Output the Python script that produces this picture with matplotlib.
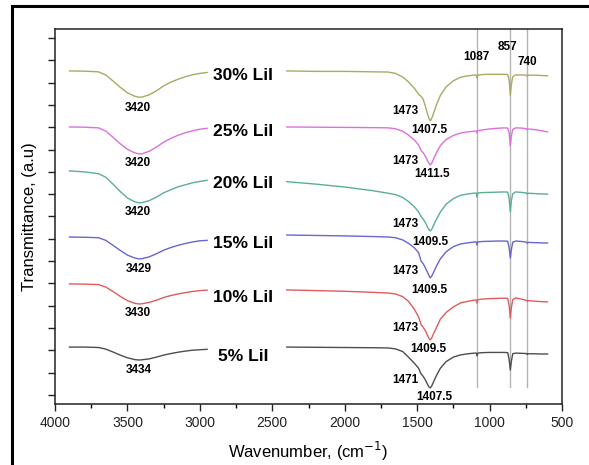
import matplotlib
matplotlib.use("Agg")
import matplotlib.pyplot as plt
from matplotlib.patches import Rectangle

plt.rcParams['font.family'] = ['Liberation Sans', 'DejaVu Sans']

# wavenumber grids (cm-1); the spectra have a gap between ~2950 and 2400
left_wn = [3900, 3800, 3700, 3650, 3600, 3550, 3500, 3450, 3420, 3400, 3350,
           3300, 3250, 3200, 3150, 3100, 3050, 3000, 2950]
right_wn = [2400, 2200, 2000, 1800, 1700, 1650, 1600, 1560, 1520, 1490, 1473,
            1460, 1445, 1430, 1420, 1410, 1400, 1385, 1365, 1340, 1300, 1250,
            1200, 1150, 1100, 1092, 1087, 1082, 1050, 1000, 950, 900, 875, 865,
            857, 850, 840, 820, 780, 745, 740, 735, 700, 650, 600]

samples = ['30% LiI', '25% LiI', '20% LiI', '15% LiI', '10% LiI', '5% LiI']
colors = ['#aaaa62', '#dd6fdd', '#5aae98', '#6666d4', '#e05c5c', '#4d4d4d']

t30_left = [14.52, 14.51, 14.48, 14.34, 14.07, 13.79, 13.54, 13.39, 13.34, 13.35,
            13.45, 13.63, 13.85, 14.02, 14.15, 14.26, 14.35, 14.41, 14.45]
t25_left = [12.01, 12.0, 11.97, 11.83, 11.55, 11.26, 11.01, 10.85, 10.80, 10.81,
            10.92, 11.11, 11.33, 11.5, 11.64, 11.75, 11.84, 11.91, 11.95]
t20_left = [10.04, 10.0, 9.92, 9.76, 9.45, 9.12, 8.83, 8.66, 8.61, 8.62,
            8.71, 8.87, 9.06, 9.2, 9.33, 9.42, 9.51, 9.57, 9.62]
t15_left = [7.08, 7.07, 7.05, 6.93, 6.71, 6.48, 6.27, 6.14, 6.10, 6.11,
            6.19, 6.33, 6.49, 6.61, 6.71, 6.79, 6.86, 6.91, 6.93]
t10_left = [4.98, 4.97, 4.95, 4.84, 4.64, 4.42, 4.23, 4.11, 4.08, 4.09,
            4.15, 4.25, 4.37, 4.46, 4.53, 4.59, 4.64, 4.68, 4.70]
t5_left = [2.15, 2.15, 2.13, 2.06, 1.93, 1.79, 1.67, 1.59, 1.57, 1.58,
           1.62, 1.70, 1.79, 1.86, 1.92, 1.97, 2.01, 2.03, 2.05]

t30_right = [14.52, 14.5, 14.5, 14.48, 14.47, 14.41, 14.25, 14.03, 13.75, 13.48,
             13.38, 13.27, 12.98, 12.62, 12.43, 12.28, 12.39, 12.66, 13.03, 13.42,
             13.81, 14.08, 14.24, 14.3, 14.34, 14.33, 14.2, 14.33, 14.36, 14.37,
             14.37, 14.37, 14.36, 14.1, 13.44, 13.9, 14.26, 14.34, 14.34, 14.33,
             14.28, 14.33, 14.33, 14.32, 14.3]
t25_right = [12.01, 12.0, 11.99, 11.98, 11.97, 11.93, 11.82, 11.65, 11.43, 11.2,
             10.95, 10.87, 10.72, 10.52, 10.4, 10.31, 10.38, 10.6, 10.88, 11.17,
             11.45, 11.63, 11.74, 11.79, 11.83, 11.83, 11.74, 11.84, 11.88, 11.92,
             11.95, 11.97, 11.96, 11.75, 11.16, 11.6, 11.9, 11.97, 11.96, 11.93,
             11.88, 11.92, 11.9, 11.85, 11.79]
t20_right = [9.56, 9.45, 9.32, 9.15, 9.04, 8.98, 8.85, 8.67, 8.44, 8.2,
             8.0, 7.9, 7.74, 7.55, 7.43, 7.35, 7.42, 7.63, 7.9, 8.2,
             8.55, 8.8, 8.95, 9.01, 9.05, 9.05, 8.87, 9.05, 9.07, 9.08,
             9.09, 9.1, 9.09, 8.8, 8.2, 8.7, 9.02, 9.1, 9.08, 9.05,
             9.0, 9.04, 9.03, 9.01, 9.0]
t15_right = [7.17, 7.15, 7.13, 7.1, 7.08, 7.05, 6.95, 6.8, 6.6, 6.38,
             6.0, 5.9, 5.72, 5.52, 5.37, 5.25, 5.32, 5.52, 5.8, 6.1,
             6.42, 6.65, 6.77, 6.82, 6.86, 6.86, 6.72, 6.86, 6.88, 6.89,
             6.9, 6.9, 6.89, 6.6, 6.14, 6.5, 6.85, 6.9, 6.88, 6.85,
             6.8, 6.84, 6.83, 6.82, 6.81]
t10_right = [4.71, 4.68, 4.65, 4.6, 4.57, 4.53, 4.41, 4.2, 3.85, 3.5,
             3.15, 3.05, 2.9, 2.7, 2.56, 2.47, 2.55, 2.78, 3.05, 3.4,
             3.7, 3.95, 4.13, 4.2, 4.26, 4.26, 4.12, 4.27, 4.3, 4.32,
             4.33, 4.34, 4.33, 4.0, 3.45, 3.9, 4.28, 4.35, 4.3, 4.24,
             4.2, 4.23, 4.21, 4.19, 4.17]
t5_right = [2.15, 2.14, 2.13, 2.12, 2.11, 2.07, 1.95, 1.7, 1.43, 1.2,
            0.95, 0.85, 0.7, 0.5, 0.38, 0.32, 0.4, 0.62, 0.9, 1.2,
            1.5, 1.7, 1.8, 1.85, 1.88, 1.88, 1.75, 1.88, 1.9, 1.91,
            1.91, 1.91, 1.9, 1.6, 1.12, 1.5, 1.85, 1.88, 1.87, 1.86,
            1.82, 1.85, 1.85, 1.84, 1.84]

lefts = [t30_left, t25_left, t20_left, t15_left, t10_left, t5_left]
rights = [t30_right, t25_right, t20_right, t15_right, t10_right, t5_right]

# peak labels
oh_labels = ['3420', '3420', '3420', '3429', '3430', '3434']
sh_labels = ['1473', '1473', '1473', '1473', '1473', '1471']
min_labels = ['1407.5', '1411.5', '1409.5', '1409.5', '1409.5', '1407.5']
marker_lines = [1087, 857, 740]

# text positions
name_y = [14.3, 11.79, 9.46, 6.81, 4.35, 1.71]
oh_y = [12.86, 10.4, 8.2, 5.65, 3.68, 1.12]
sh_y = [12.73, 10.49, 7.66, 5.56, 3.0, 0.68]
min_x = [1419, 1398, 1407, 1419, 1426, 1384]
min_y = [11.88, 9.9, 6.87, 4.71, 2.06, -0.07]
top_y = [15.15, 15.6, 14.92]
top_x = [1088, 874, 743]

fig = plt.figure(figsize=(5.89, 4.65), dpi=100)
ax = fig.add_axes([0.0934, 0.1312, 0.8608, 0.8065])

for wn in marker_lines:
    ax.plot([wn, wn], [0.35, 16.4], color='#b4b4b4', lw=1.0, zorder=1)

for i in range(len(samples)):
    ax.plot(left_wn, lefts[i], color=colors[i], lw=1.0, zorder=2)
    ax.plot(right_wn, rights[i], color=colors[i], lw=1.0, zorder=2)
    ax.text(2700, name_y[i], samples[i], fontsize=12.5, fontweight='bold',
            ha='center', va='center')
    ax.text(3425, oh_y[i], oh_labels[i], fontsize=8.5, fontweight='bold',
            ha='center', va='center')
    ax.text(1580, sh_y[i], sh_labels[i], fontsize=8.5, fontweight='bold',
            ha='center', va='center')
    ax.text(min_x[i], min_y[i], min_labels[i], fontsize=8.5, fontweight='bold',
            ha='center', va='center')

for j in range(len(marker_lines)):
    ax.text(top_x[j], top_y[j], str(marker_lines[j]), fontsize=8.5,
            fontweight='bold', ha='center', va='center')

ax.set_xlim(4000, 500)
ax.set_ylim(-0.4, 16.4)
ax.set_xticks([4000, 3500, 3000, 2500, 2000, 1500, 1000, 500])
ax.set_xticks([3750, 3250, 2750, 2250, 1750, 1250, 750], minor=True)
ax.set_yticks(range(0, 17))
ax.set_yticklabels([])
ax.tick_params(axis='both', which='major', direction='out', length=5,
               width=1.0, labelsize=10, pad=4, colors='#222222')
ax.tick_params(axis='x', which='minor', direction='out', length=3, width=1.0)
for s in ax.spines.values():
    s.set_linewidth(1.1)
    s.set_color('#222222')

ax.set_xlabel('Wavenumber, (cm$^{-1}$)', fontsize=12, labelpad=7)
ax.set_ylabel('Transmittance, (a.u)', fontsize=12, labelpad=4)

# outer frame of the picture
fig.add_artist(Rectangle((12 / 589, -0.1), 1.2, 1.1 - 6 / 465,
                         transform=fig.transFigure, fill=False,
                         edgecolor='black', lw=2.2, clip_on=False))

plt.savefig('out.png', dpi=100)
